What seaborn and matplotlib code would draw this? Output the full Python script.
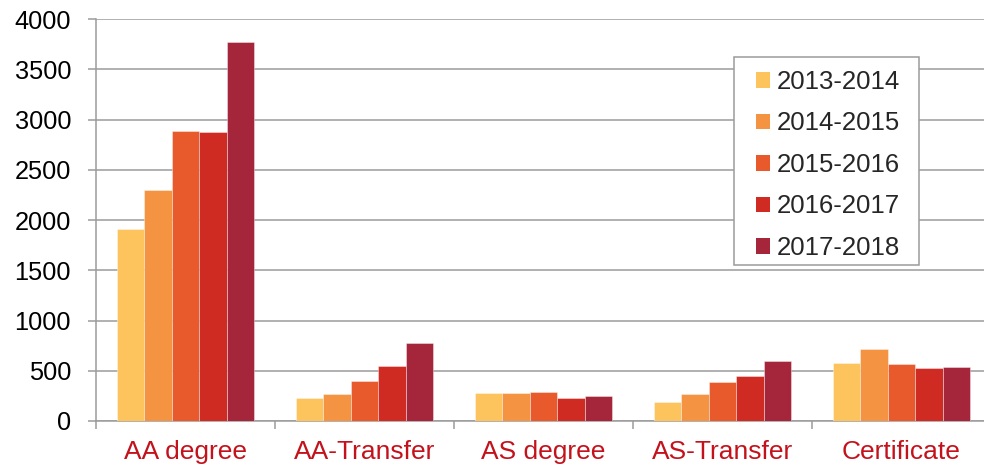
import matplotlib
matplotlib.use("Agg")
import matplotlib.pyplot as plt
from matplotlib.patches import Rectangle
from matplotlib.ticker import FixedLocator
import seaborn as sns
import pandas as pd

categories = ["AA degree", "AA-Transfer", "AS degree", "AS-Transfer", "Certificate"]
years = ["2013-2014", "2014-2015", "2015-2016", "2016-2017", "2017-2018"]
v_2013_2014 = [1910, 229, 279, 193, 582]
v_2014_2015 = [2302, 269, 279, 273, 714]
v_2015_2016 = [2887, 399, 286, 389, 565]
v_2016_2017 = [2877, 552, 226, 449, 528]
v_2017_2018 = [3771, 781, 253, 595, 538]
yticks = [0, 500, 1000, 1500, 2000, 2500, 3000, 3500, 4000]

series = [v_2013_2014, v_2014_2015, v_2015_2016, v_2016_2017, v_2017_2018]
rows = []
for yr, vals in zip(years, series):
    for cat, v in zip(categories, vals):
        rows.append({"Category": cat, "Year": yr, "Value": v})
df = pd.DataFrame(rows)

palette = ["#FDC45E", "#F49443", "#E8592B", "#CF2B22", "#A5253B"]
grid_c = "#9B9B9B"
label_red = "#C4121C"

sns.set_theme(style="white")
plt.rcParams["font.family"] = ["Liberation Sans", "DejaVu Sans"]

W, H = 984, 468
fig = plt.figure(figsize=(W / 100, H / 100), dpi=100)
# axes spans x 96..991 px (right part clipped by figure), y 19..421 px from top
ax = fig.add_axes([96 / W, (H - 421) / H, (991 - 96) / W, (421 - 19) / H])

sns.barplot(data=df, x="Category", y="Value", hue="Year", order=categories,
            hue_order=years, palette=palette, saturation=1, width=0.77, gap=0,
            edgecolor=(1, 1, 1, 0.45), linewidth=0.6, legend=True, ax=ax,
            zorder=3)

ax.set_xlim(-0.5, 4.5)
ax.set_ylim(0, 4000)
ax.set_xlabel("")
ax.set_ylabel("")
ax.yaxis.set_major_locator(FixedLocator(yticks))
ax.set_yticklabels([str(t) for t in yticks])
ax.set_axisbelow(True)
ax.grid(axis="y", color=grid_c, linewidth=1.1)
ax.grid(axis="x", visible=False)

for s in ["top", "right"]:
    ax.spines[s].set_visible(False)
for s in ["left", "bottom"]:
    ax.spines[s].set_visible(True)
    ax.spines[s].set_color(grid_c)
    ax.spines[s].set_linewidth(1.1)

ax.tick_params(axis="y", which="major", direction="out", length=6, width=1.1,
               color=grid_c, pad=12, labelsize=18.3, labelcolor="black", left=True)
ax.xaxis.set_minor_locator(FixedLocator([-0.5, 0.5, 1.5, 2.5, 3.5, 4.5]))
ax.tick_params(axis="x", which="minor", direction="out", length=6, width=1.1,
               color=grid_c, bottom=True)
ax.tick_params(axis="x", which="major", length=0, pad=13.5, labelsize=19,
               labelcolor=label_red)

# legend
leg_old = ax.get_legend()
handles, labels = ax.get_legend_handles_labels()
if leg_old is not None:
    leg_old.remove()
leg = fig.legend(handles, labels, loc="upper left",
                 bbox_to_anchor=(756 / W, 1 - 70 / H),
                 bbox_transform=fig.transFigure, frameon=False,
                 fontsize=18.5, handlelength=0.55, handleheight=0.55,
                 handletextpad=0.27, labelspacing=0.68, borderpad=0,
                 borderaxespad=0)
for h in leg.legend_handles:
    h.set_edgecolor("none")
fig.patches.append(Rectangle((734 / W, 1 - 265 / H), (919 - 734) / W,
                             (265 - 57) / H, transform=fig.transFigure,
                             facecolor="white", edgecolor=grid_c,
                             linewidth=1.1, zorder=4))
leg.set_zorder(5)

fig.savefig("out.png", dpi=100)
